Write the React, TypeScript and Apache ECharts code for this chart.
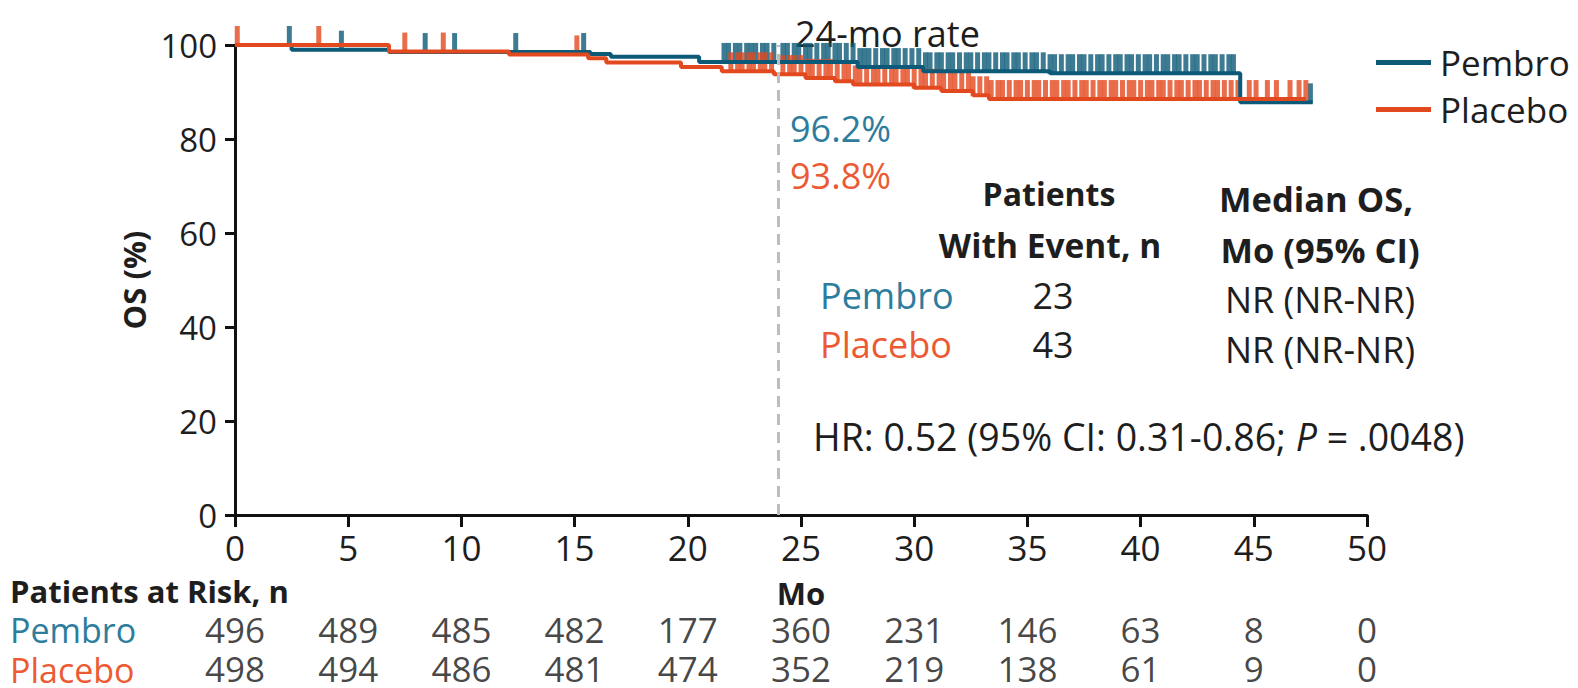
import React, { useEffect, useRef } from "react";
import * as echarts from "echarts";

const TEAL = "#0d5a78";
const TEAL_TXT = "#2d7d9c";
const ORANGE = "#e3491e";
const ORANGE_TXT = "#ec5a33";
const INK = "#1e1e1e";
const FONT = "'Open Sans', sans-serif";

// X axis ticks (months) / risk table columns
const riskMonths = [0, 5, 10, 15, 20, 25, 30, 35, 40, 45, 50];
const pembroAtRisk = [496, 489, 485, 482, 177, 360, 231, 146, 63, 8, 0];
const placeboAtRisk = [498, 494, 486, 481, 474, 352, 219, 138, 61, 9, 0];

// Kaplan-Meier steps [month, OS %]
const pembroSteps: [number, number][] = [
  [0, 100], [2.5, 99.0], [6.8, 98.5], [15.7, 98.1], [16.6, 97.5], [20.5, 96.4],
  [27.5, 95.3], [30.4, 94.4], [36.0, 94.0], [44.4, 87.8], [47.6, 87.8],
];
const placeboSteps: [number, number][] = [
  [0, 100], [6.8, 98.6], [12.1, 98.0], [15.6, 97.2], [16.4, 96.3], [19.7, 95.3],
  [21.5, 94.4], [23.8, 93.8], [25.2, 93.0], [26.5, 92.3], [27.3, 91.6], [30.0, 90.9],
  [31.2, 90.2], [32.6, 89.3], [33.3, 88.5], [47.3, 88.5],
];

// Censoring times (months)
const pembroCensor = [
  2.4, 4.7, 8.4, 9.7, 12.4, 15.4,
  21.6, 21.8, 22.1, 22.3, 22.6, 22.8, 23.0, 23.3, 23.5, 23.8, 24.2, 24.4, 24.7, 24.9,
  25.2, 25.4, 25.7, 26.0, 26.2, 26.5, 26.7, 27.0, 27.3, 27.6, 27.8, 28.0, 28.3, 28.6,
  28.8, 29.1, 29.3, 29.6, 29.9, 30.2, 30.5, 30.7, 31.0, 31.2, 31.5, 31.7, 32.0, 32.3,
  32.5, 32.8, 33.1, 33.3, 33.6, 33.9, 34.1, 34.4, 34.6, 34.9, 35.2, 35.4, 35.7, 36.0,
  36.2, 36.5, 36.8, 37.0, 37.3, 37.5, 37.8, 38.1, 38.3, 38.6, 38.9, 39.1, 39.4, 39.6,
  39.9, 40.2, 40.4, 40.7, 41.0, 41.2, 41.5, 41.7, 42.0, 42.3, 42.5, 42.8, 43.1, 43.3,
  43.6, 43.9, 44.1, 47.5,
];
const placeboCensor = [
  0.1, 3.7, 7.5, 9.2, 15.1,
  21.9, 22.2, 22.4, 22.7, 22.9, 23.2, 23.4, 23.7, 24.2, 24.5, 24.7, 25.0, 25.3, 25.5,
  25.8, 26.1, 26.3, 26.6, 26.9, 27.1, 27.4, 27.6, 27.9, 28.2, 28.4, 28.7, 29.0, 29.2,
  29.5, 29.7, 30.0, 30.3, 30.5, 30.8, 31.1, 31.3, 31.6, 31.8, 32.1, 32.4, 32.6, 32.9,
  33.2, 33.4, 33.7, 33.9, 34.2, 34.5, 34.7, 35.0, 35.3, 35.5, 35.8, 36.1, 36.3, 36.6,
  36.8, 37.1, 37.4, 37.6, 37.9, 38.2, 38.4, 38.7, 38.9, 39.2, 39.5, 39.7, 40.0, 40.3,
  40.5, 40.8, 41.0, 41.3, 41.6, 41.8, 42.1, 42.4, 42.6, 42.9, 43.2, 43.4, 43.7, 44.0,
  44.3, 44.8, 45.1, 45.6, 46.0, 46.6, 47.0, 47.3,
];

const landmarkMonth = 24;

function survivalAt(steps: [number, number][], t: number) {
  let v = steps[0][1];
  for (const [x, y] of steps) {
    if (x <= t) v = y;
    else break;
  }
  return v;
}

function txt(text: string, x: number, y: number, opts: any = {}) {
  const align = opts.align || "left";
  const size = opts.size || 36;
  return {
    type: "text",
    x,
    y,
    silent: true,
    style: {
      text,
      fill: opts.color || INK,
      fontSize: size,
      lineHeight: opts.lineHeight || Math.round(size * 1.1),
      fontWeight: opts.bold ? "bold" : "normal",
      fontFamily: FONT,
      align,
      textAlign: align,
      verticalAlign: "middle",
      textVerticalAlign: "middle",
      rich: opts.rich,
    },
  };
}

export default function App() {
  const ref = useRef<HTMLDivElement>(null);

  useEffect(() => {
    if (!ref.current) return;
    const chart = echarts.init(ref.current, undefined, { renderer: "svg" });

    const censorSeries = (name: string, times: number[], steps: [number, number][], color: string) => ({
      name,
      type: "scatter",
      xAxisIndex: 0,
      yAxisIndex: 0,
      symbol: "rect",
      symbolSize: [5, 20],
      symbolOffset: [0, -9],
      itemStyle: { color },
      silent: true,
      data: times.map((t) => [t, survivalAt(steps, t)]),
    });

    const riskSeries = (name: string, counts: number[], row: number) => ({
      name,
      type: "scatter",
      xAxisIndex: 1,
      yAxisIndex: 1,
      symbolSize: 1,
      itemStyle: { color: "rgba(0,0,0,0)" },
      silent: true,
      label: {
        show: true,
        position: "inside",
        formatter: (p: any) => String(p.value[2]),
        fontSize: 35,
        lineHeight: 30,
        fontFamily: FONT,
        color: "#161616",
      },
      data: riskMonths.map((m, i) => [m, row, counts[i]]),
    });

    chart.setOption({
      animation: false,
      backgroundColor: "#ffffff",
      grid: [
        { left: 235, top: 45, width: 1132, height: 470 },
        { left: 235, top: 610, width: 1132, height: 80 },
      ],
      legend: {
        data: ["Pembro", "Placebo"],
        orient: "vertical",
        left: 1371,
        top: 40,
        itemWidth: 55,
        itemHeight: 5,
        itemGap: 12,
        icon: "rect",
        selectedMode: false,
        textStyle: { fontSize: 35, fontFamily: FONT, color: INK, lineHeight: 35, padding: [0, 0, 0, 4] },
      },
      xAxis: [
        {
          type: "value",
          gridIndex: 0,
          min: 0,
          max: 50,
          interval: 5,
          name: "Mo",
          nameLocation: "middle",
          nameGap: 62,
          nameTextStyle: { fontSize: 31, fontWeight: "bold", fontFamily: FONT, color: INK, lineHeight: 32 },
          axisLine: { lineStyle: { color: "#111", width: 3 } },
          axisTick: { length: 12, lineStyle: { color: "#111", width: 3 } },
          axisLabel: { fontSize: 35, fontFamily: FONT, color: INK, margin: 14, lineHeight: 36 },
          splitLine: { show: false },
        },
        {
          type: "value",
          gridIndex: 1,
          min: 0,
          max: 50,
          show: false,
        },
      ],
      yAxis: [
        {
          type: "value",
          gridIndex: 0,
          min: 0,
          max: 100,
          interval: 20,
          name: "OS (%)",
          nameLocation: "middle",
          nameGap: 86,
          nameRotate: 90,
          nameTextStyle: { fontSize: 31, fontWeight: "bold", fontFamily: FONT, color: INK },
          axisLine: { show: true, lineStyle: { color: "#111", width: 3 } },
          axisTick: { show: true, length: 10, lineStyle: { color: "#111", width: 3 } },
          axisLabel: { fontSize: 33, fontFamily: FONT, color: INK, margin: 18 },
          splitLine: { show: false },
        },
        {
          type: "value",
          gridIndex: 1,
          min: 0,
          max: 2,
          show: false,
        },
      ],
      series: [
        {
          name: "Pembro",
          type: "line",
          step: "end",
          xAxisIndex: 0,
          yAxisIndex: 0,
          showSymbol: false,
          symbol: "none",
          color: TEAL,
          lineStyle: { color: TEAL, width: 4 },
          data: pembroSteps,
          markLine: {
            silent: true,
            symbol: ["none", "none"],
            label: { show: false },
            lineStyle: { color: "#bdbdbd", type: [11, 7], width: 3 },
            data: [{ xAxis: landmarkMonth }],
          },
        },
        censorSeries("Pembro censored", pembroCensor, pembroSteps, TEAL),
        {
          name: "Placebo",
          type: "line",
          step: "end",
          xAxisIndex: 0,
          yAxisIndex: 0,
          showSymbol: false,
          symbol: "none",
          color: ORANGE,
          lineStyle: { color: ORANGE, width: 4 },
          data: placeboSteps,
        },
        censorSeries("Placebo censored", placeboCensor, placeboSteps, ORANGE),
        riskSeries("Pembro at risk", pembroAtRisk, 1.5),
        riskSeries("Placebo at risk", placeboAtRisk, 0.5),
      ],
      graphic: [
        txt("24-mo rate", 795, 33),
        txt("96.2%", 790, 128, { color: TEAL_TXT }),
        txt("93.8%", 790, 175, { color: ORANGE_TXT }),
        txt("Patients", 1049, 193, { bold: true, size: 32, align: "center" }),
        txt("With Event, n", 1050, 245, { bold: true, size: 33.5, align: "center" }),
        txt("Median OS,", 1316, 198, { bold: true, size: 34.5, align: "center" }),
        txt("Mo (95% CI)", 1320, 249, { bold: true, size: 34.5, align: "center" }),
        txt("Pembro", 820, 295, { color: TEAL_TXT }),
        txt("Placebo", 820, 344, { color: ORANGE_TXT }),
        txt("23", 1053, 295, { align: "center" }),
        txt("43", 1053, 344, { align: "center" }),
        txt("NR (NR-NR)", 1320, 299, { align: "center" }),
        txt("NR (NR-NR)", 1320, 349, { align: "center" }),
        txt("{a|HR: 0.52 (95% CI: 0.31-0.86; }{i|P}{a| = .0048)}", 813, 436, {
          size: 37.5,
          rich: {
            a: { fontSize: 37.5, fontFamily: FONT, color: INK },
            i: { fontSize: 37.5, fontFamily: FONT, color: INK, fontStyle: "italic" },
          },
        }),
        txt("Patients at Risk, n", 10, 591, { bold: true, size: 31, lineHeight: 32 }),
        txt("Pembro", 10, 630, { color: TEAL_TXT, size: 34, lineHeight: 30 }),
        txt("Placebo", 10, 670, { color: ORANGE_TXT, size: 34, lineHeight: 30 }),
      ],
    });

    return () => chart.dispose();
  }, []);

  return (
    <div
      ref={ref}
      style={{ position: "absolute", left: 0, top: 0, width: 1578, height: 688, background: "#fff" }}
    />
  );
}
